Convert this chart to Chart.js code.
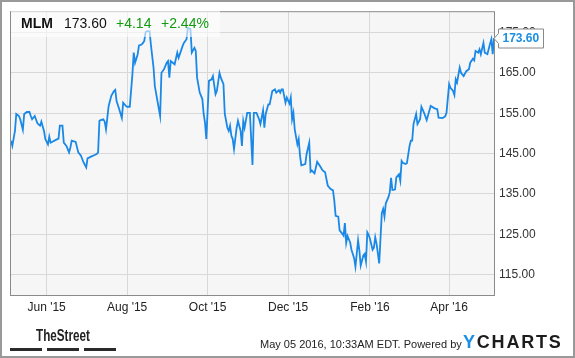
<!DOCTYPE html>
<html>
<head>
<meta charset="utf-8">
<script src="https://cdn.jsdelivr.net/npm/chart.js@4.4.1/dist/chart.umd.min.js"></script>
<style>
  html, body { margin: 0; padding: 0; background: #fff; }
  #wrap { position: relative; width: 575px; height: 358px; overflow: hidden; font-family: "Liberation Sans", Arial, sans-serif; }
  #chart { position: absolute; left: 0; top: 0; }
  .frame { position: absolute; left: 0; top: 0; width: 575px; height: 358px; box-sizing: border-box; border: 2px solid #999; pointer-events: none; }
  .header { position: absolute; left: 11px; top: 11px; width: 209px; height: 26px; background: rgba(255,255,255,0.6); }
  .h { position: absolute; top: 16px; font-size: 14px; line-height: 14px; white-space: nowrap; color: #111; }
  .green { color: #0f9a0f; }
  .foot { position: absolute; left: 260px; top: 339px; font-size: 11px; line-height: 11px; color: #222; white-space: nowrap; }
  .ych { position: absolute; left: 463px; top: 333px; font-size: 18px; line-height: 18px; font-weight: bold; letter-spacing: 1.8px; color: #1c1c1c; white-space: nowrap; }
  .ych b { color: #1a8fe3; }
  .street { position: absolute; left: 36px; top: 328px; font-size: 16px; line-height: 16px; font-weight: bold; color: #222; white-space: nowrap; transform: scaleX(0.73); transform-origin: 0 0; }
  .bar { position: absolute; top: 348px; height: 3px; width: 32px; background: #2a2a2a; }
</style>
</head>
<body>
<div id="wrap">
  <canvas id="chart" width="575" height="358"></canvas>
  <div class="header"></div>
  <span class="h" style="left:21px;font-weight:bold;">MLM</span>
  <span class="h" style="left:64px;">173.60</span>
  <span class="h green" style="left:116px;">+4.14</span>
  <span class="h green" style="left:161px;">+2.44%</span>
  <span class="street">TheStreet</span>
  <div class="bar" style="left:10px;"></div>
  <div class="bar" style="left:47px;"></div>
  <div class="bar" style="left:84px;"></div>
  <span class="foot">May 05 2016, 10:33AM EDT. Powered by</span>
  <span class="ych"><b>Y</b>CHARTS</span>
  <div class="frame"></div>
</div>
<script>
// day offsets from the first day on the chart
const startDate = '2015-05-05';
const days = [0,1,3,4,6,7,9,10,12,14,15,16,18,20,22,23,25,26,28,29,30,34,36,37,39,40,42,44,45,46,49,51,53,55,57,58,
  61,63,65,66,67,68,70,71,72,74,76,78,79,80,82,84,85,87,88,90,92,93,94,96,97,99,100,101,102,103,105,106,108,109,111,113,
  114,116,118,119,120,121,124,126,127,130,131,133,134,136,137,139,140,141,143,145,146,147,148,149,150,152,153,155,156,158,
  159,161,162,164,165,166,167,168,169,171,172,174,175,176,177,179,181,183,184,186,188,189,191,192,193,195,196,198,200,201,
  203,204,205,206,208,209,211,212,213,214,215,217,218,219,220,223,224,226,227,228,230,232,234,236,238,240,242,244,245,246,
  248,249,251,252,253,254,255,257,258,260,261,263,264,265,267,268,269,270,271,272,274,275,276,277,278,279,281,282,283,284,
  286,287,288,289,291,292,294,295,296,297,299,300,302,303,304,305,307,308,310,311,313,315,317,318,321,323,324,327,329,330,
  332,333,335,336,337,338,340,341,343,345,347,348,350,351,352,354,355,356,358,359,361,363,364,365,366];
const prices = [148.2,146.9,150.6,154.8,154.3,153.5,150.9,154.8,155.3,155.3,154.3,153.5,154.3,152.5,151.9,152.9,150.6,148.6,
  147.3,149.2,147.7,148.4,148.7,151.9,151.9,147.7,146.9,145.3,146.5,148.2,147.9,145.3,144.5,142.8,141.6,143.8,
  144.3,144.6,144.9,145.3,153.1,153.3,153.5,152.9,151.0,156.8,159.3,160.5,160.8,158.0,156.0,153.8,157.6,156.8,156.6,156.6,
  164.6,170.0,167.5,169.6,171.8,172.0,172.4,172.9,175.1,175.3,175.3,172.0,166.3,161.7,158.0,154.3,
  165.0,165.9,167.5,167.9,163.8,167.9,167.1,170.0,168.7,171.6,172.4,173.3,176.1,175.8,170.0,171.2,170.4,163.8,160.1,158.5,
  154.8,152.7,148.6,155.6,163.0,163.4,164.2,159.7,160.5,165.0,163.8,162.2,154.8,151.4,150.6,151.9,149.4,148.6,146.1,151.4,
  153.1,150.6,146.9,153.1,151.4,155.1,155.1,142.2,155.1,155.1,153.5,152.3,155.7,151.4,154.8,157.2,157.2,160.5,160.9,160.1,
  160.7,160.1,160.9,160.9,157.6,158.9,157.4,158.9,153.5,155.1,151.0,147.3,148.6,144.5,142.1,142.4,144.9,147.7,140.5,140.8,
  140.1,143.0,142.0,140.9,140.4,137.1,136.3,135.9,133.3,129.6,129.4,126.0,125.2,124.7,127.8,122.9,124.6,123.0,121.2,119.1,
  117.0,123.5,121.0,117.3,119.8,120.2,118.3,125.5,124.9,123.9,121.2,121.7,124.3,122.7,120.3,117.8,130.3,131.3,129.4,132.7,
  134.2,135.4,139.0,136.0,136.1,139.1,139.9,138.3,143.2,142.7,142.4,142.6,146.9,148.2,148.2,152.3,154.8,152.3,153.5,156.6,
  155.1,153.3,155.6,156.8,156.2,156.0,153.9,153.8,154.2,155.1,162.2,161.3,160.5,159.5,163.4,162.6,166.3,165.0,164.2,165.4,
  165.9,167.5,168.5,168.1,170.4,170.0,170.8,169.6,172.4,170.0,169.6,172.2,173.3,169.6,173.6];
const tickDates = ['2015-06-01', '2015-08-01', '2015-10-01', '2015-12-01', '2016-02-01', '2016-04-01'];
const tickLabels = ["Jun '15", "Aug '15", "Oct '15", "Dec '15", "Feb '16", "Apr '16"];
const yTicks = [115, 125, 135, 145, 155, 165, 175];
const yMin = 110, yMax = 180;

const DAY = 86400000;
const tickDays = tickDates.map(d => Math.round((Date.parse(d) - Date.parse(startDate)) / DAY));
const points = days.map((d, i) => ({ x: d, y: prices[i] }));

const plotFrame = {
  id: 'plotFrame',
  beforeDraw(chart) {
    const a = chart.chartArea, ctx = chart.ctx;
    ctx.save();
    ctx.fillStyle = '#f6f6f6';
    ctx.fillRect(a.left, a.top, a.right - a.left, a.bottom - a.top);
    ctx.restore();
  },
  afterDraw(chart) {
    const a = chart.chartArea, ctx = chart.ctx;
    ctx.save();
    ctx.strokeStyle = '#8a8a8a';
    ctx.lineWidth = 1;
    ctx.strokeRect(a.left - 0.5, a.top - 0.5, a.right - a.left + 1, a.bottom - a.top + 1);

    // last value flag
    const meta = chart.getDatasetMeta(0);
    const last = meta.data[meta.data.length - 1];
    const tipX = a.right, tipY = Math.round(last.y) + 0.5;
    const bx = tipX + 4.5, bw = 45, bh = 19, by = tipY - 9.5;
    ctx.beginPath();
    ctx.moveTo(bx, by);
    ctx.lineTo(bx + bw, by);
    ctx.lineTo(bx + bw, by + bh);
    ctx.lineTo(bx, by + bh);
    ctx.lineTo(bx, tipY + 5);
    ctx.lineTo(tipX, tipY);
    ctx.lineTo(bx, tipY - 5);
    ctx.closePath();
    ctx.fillStyle = '#fff';
    ctx.fill();
    ctx.strokeStyle = '#888';
    ctx.stroke();
    ctx.fillStyle = '#1a8fe3';
    ctx.font = 'bold 12px "Liberation Sans", Arial, sans-serif';
    ctx.textBaseline = 'middle';
    ctx.textAlign = 'left';
    ctx.fillText(prices[prices.length - 1].toFixed(2), bx + 4, tipY + 0.5);
    ctx.restore();
  }
};

new Chart(document.getElementById('chart'), {
  type: 'line',
  data: {
    datasets: [{
      data: points,
      borderColor: '#1a88e6',
      borderWidth: 1.8,
      pointRadius: 0,
      tension: 0,
      fill: false
    }]
  },
  options: {
    responsive: false,
    animation: false,
    events: [],
    layout: { padding: { left: 11, top: 11, right: 0, bottom: 0 } },
    plugins: { legend: { display: false }, tooltip: { enabled: false } },
    scales: {
      x: {
        type: 'linear',
        min: 0,
        max: days[days.length - 1],
        afterBuildTicks: s => { s.ticks = tickDays.map(v => ({ value: v })); },
        afterFit: s => { s.height = 63; },
        grid: { color: '#d8d8d8', drawTicks: false },
        border: { display: false },
        ticks: {
          padding: 5,
          color: '#222',
          font: { family: '"Liberation Sans", Arial, sans-serif', size: 12 },
          maxRotation: 0,
          callback: v => tickLabels[tickDays.indexOf(v)]
        }
      },
      y: {
        position: 'right',
        min: yMin,
        max: yMax,
        afterBuildTicks: s => { s.ticks = yTicks.map(v => ({ value: v })); },
        afterFit: s => { s.width = 81; },
        grid: { color: '#d8d8d8', drawTicks: false },
        border: { display: false },
        ticks: {
          padding: 5,
          color: '#333',
          font: { family: '"Liberation Sans", Arial, sans-serif', size: 12 },
          callback: v => v.toFixed(2)
        }
      }
    }
  },
  plugins: [plotFrame]
});
</script>
</body>
</html>
